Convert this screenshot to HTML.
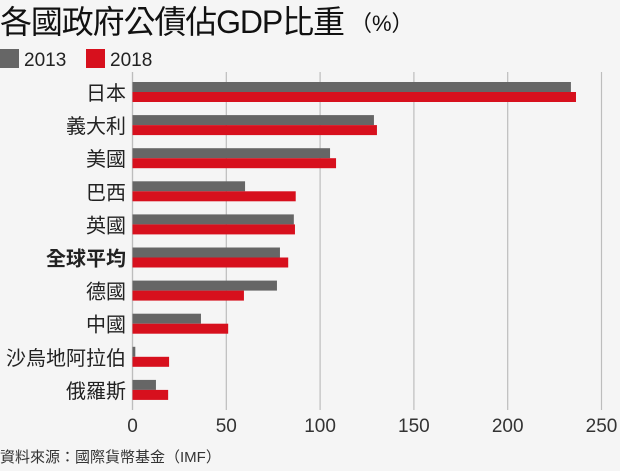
<!DOCTYPE html>
<html><head><meta charset="utf-8"><style>
body{margin:0;background:#f5f5f5;width:620px;height:466px;overflow:hidden;font-family:"Liberation Sans","Noto Sans CJK TC",sans-serif;}
</style></head><body>
<svg width="620" height="466" xmlns="http://www.w3.org/2000/svg" style="font-family:'Liberation Sans','Noto Sans CJK TC',sans-serif">
<text x="0" y="33" font-size="32" fill="#111" textLength="345">各國政府公債佔GDP比重</text>
<text x="350" y="31" font-size="22" fill="#111">（%）</text>
<g>
<rect x="0" y="49" width="19" height="19" fill="#666"/>
<text x="24" y="66" font-size="19" fill="#222">2013</text>
<rect x="86" y="49" width="19" height="19" fill="#d7101d"/>
<text x="110" y="66" font-size="19" fill="#222">2018</text>
</g>
<g id="grid"></g><g id="bars"></g><g id="labels"></g>
<text x="0" y="462" font-size="15" fill="#333">資料來源：國際貨幣基金（IMF）</text>
</svg>
<script>
const categories=["日本","義大利","美國","巴西","英國","全球平均","德國","中國","沙烏地阿拉伯","俄羅斯"];
const values2013=[233.7,128.7,105.3,60,86,78.6,77,36.5,1.5,12.5];
const values2018=[236.4,130.3,108.5,87,86.6,83,59.4,51,19.5,19];
const ticks=[0,50,100,150,200,250];
const NS="http://www.w3.org/2000/svg";
const x0=132.5,pxPer=1.876,rowTop=82,rowStep=33.1,barH=10;
const xs=v=>x0+v*pxPer;
function mk(t,a,p){const e=document.createElementNS(NS,t);for(const k in a)e.setAttribute(k,a[k]);p.appendChild(e);return e;}
const grid=document.getElementById('grid'),bars=document.getElementById('bars'),labels=document.getElementById('labels');
ticks.forEach(t=>{
 const l=mk('line',{x1:xs(t),x2:xs(t),y1:72,y2:410,stroke:'#bdbdbd','stroke-width':1.2},grid);
 
 
 const tx=mk('text',{x:xs(t),y:432,'font-size':19,fill:'#333','text-anchor':'middle'},grid);
 tx.textContent=t;
 
 
});
categories.forEach((c,i)=>{
 const y=rowTop+i*rowStep;
 const b1=mk('rect',{x:x0,y:y,width:values2013[i]*pxPer,height:barH,fill:'#666'},bars);
 
 
 const b2=mk('rect',{x:x0,y:y+barH,width:values2018[i]*pxPer,height:barH,fill:'#d7101d'},bars);
 
 
 const t=mk('text',{x:126,y:y+18,'font-size':20,fill:'#222','text-anchor':'end','font-weight':c==='全球平均'?'bold':'normal'},labels);
 t.textContent=c;
 
 
});
mk('line',{x1:x0,x2:x0,y1:72,y2:410,stroke:'#bdbdbd','stroke-width':1.2},grid);
</script>
</body></html>
